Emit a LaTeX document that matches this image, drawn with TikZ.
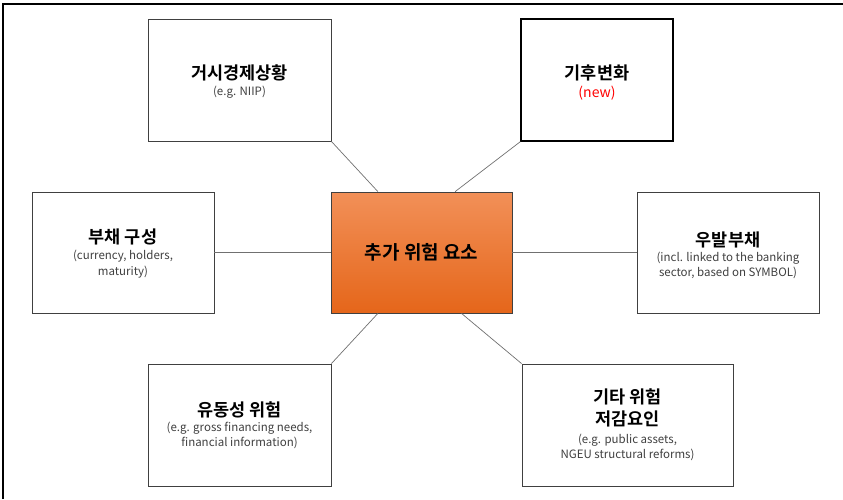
\documentclass[tikz,border=0pt]{standalone}
\usepackage{fontspec}
\setmainfont{Noto Sans CJK KR}
\newfontfamily\krb{Noto Sans CJK KR Bold}
\usetikzlibrary{calc}
\definecolor{boxline}{HTML}{404040}
\definecolor{conn}{HTML}{707070}
\definecolor{subtxt}{HTML}{404040}
\definecolor{ortop}{HTML}{F29058}
\definecolor{orbot}{HTML}{E5661A}
\begin{document}
\begin{tikzpicture}[x=1pt,y=-1pt,
  box/.style={draw=boxline,line width=0.8pt,fill=white,inner sep=0pt,align=center},
  title/.style={font=\krb\fontsize{17.5}{20}\selectfont,inner sep=0pt},
  sub/.style={font=\fontsize{11.5}{13}\selectfont,text=subtxt,inner sep=0pt},
  conn/.style={draw=conn,line width=0.7pt}]
\useasboundingbox (0,0) rectangle (843,499);
\draw[line width=1.3pt] (3,499) -- (3,4) -- (843,4);
% boxes
\node[box,minimum width=183,minimum height=122] (macro) at (239.5,80) {};
\node[box,draw=black,line width=1.3pt,minimum width=152,minimum height=122] (climate) at (597,80) {};
\node[box,minimum width=182,minimum height=121] (debt) at (123,252.5) {};
\node[box,minimum width=182,minimum height=121] (contig) at (728,252.5) {};
\node[box,minimum width=183,minimum height=122] (liq) at (239.5,425) {};
\node[box,minimum width=211,minimum height=122] (other) at (627.5,425) {};
\node[draw=boxline,line width=0.8pt,top color=ortop,bottom color=orbot,minimum width=181,minimum height=121,inner sep=0pt] (center) at (421.5,252.5) {};
% texts
\node[title] (t1a) at (239.5,73) {거시경제상황};
\node[sub] (t1b) at (239.5,92) {(e.g. NIIP)};
\node[title] (t2a) at (597,73) {기후변화};
\node[sub,text=red,font=\fontsize{14}{16}\selectfont] (t2b) at (597,93) {(new)};
\node[title] (t3a) at (123,237) {부채 구성};
\node[sub] (t3b) at (123,256) {(currency, holders,};
\node[sub] (t3c) at (123,272) {maturity)};
\node[title] (t4a) at (728,240) {우발부채};
\node[sub] (t4b) at (728,258) {(incl. linked to the banking};
\node[sub] (t4c) at (728,273) {sector, based on SYMBOL)};
\node[title] (t5a) at (239.5,410) {유동성 위험};
\node[sub] (t5b) at (239.5,428) {(e.g. gross financing needs,};
\node[sub] (t5c) at (239.5,443) {financial information)};
\node[title] (t6a) at (627.5,397) {기타 위험};
\node[title] (t6b) at (627.5,419) {저감요인};
\node[sub] (t6c) at (627.5,440) {(e.g. public assets,};
\node[sub] (t6d) at (627.5,455) {NGEU structural reforms)};
\node[title,font=\krb\fontsize{19}{22}\selectfont] (tc) at (421.5,252) {추가 위험 요소};
% connectors
\coordinate (cnw) at ($(center.north west)!0.26!(center.north east)$);
\coordinate (cne) at ($(center.north west)!0.685!(center.north east)$);
\coordinate (csw) at ($(center.south west)!0.26!(center.south east)$);
\coordinate (cse) at ($(center.south west)!0.72!(center.south east)$);
\draw[conn] (cnw) -- (macro.south east);
\draw[conn] (cne) -- (climate.south west);
\draw[conn] (debt.east) -- (center.west);
\draw[conn] (center.east) -- (contig.west);
\draw[conn] (csw) -- (liq.north east);
\draw[conn] (cse) -- (other.north west);
\end{tikzpicture}
\end{document}
